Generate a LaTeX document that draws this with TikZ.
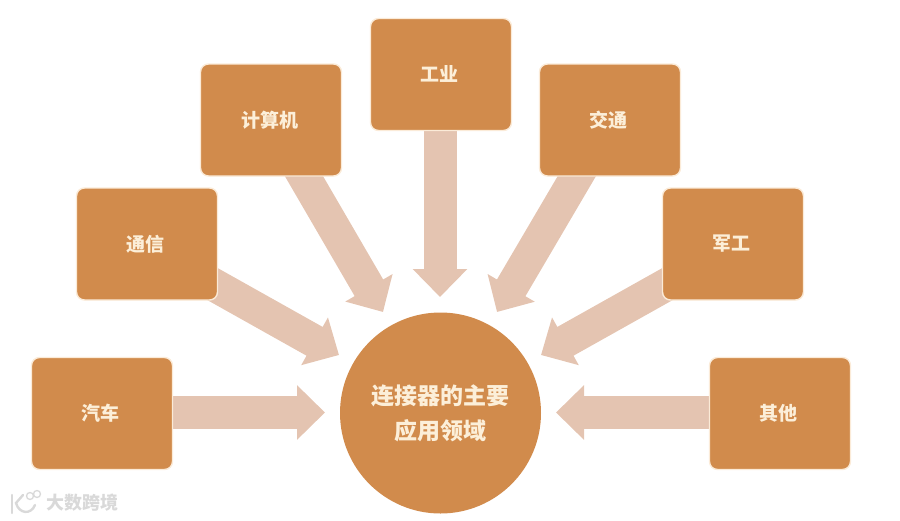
\documentclass[tikz,border=0pt]{standalone}
\usepackage{fontspec}
\newfontfamily\cjk{Noto Sans CJK SC}
\usetikzlibrary{arrows.meta,backgrounds}
\definecolor{boxfill}{HTML}{D18B4C}
\definecolor{boxedge}{HTML}{FBEBD8}
\definecolor{flow}{HTML}{E4C4B1}
\definecolor{boxtext}{HTML}{FCEFD9}
\definecolor{wmgray}{HTML}{D9D9D9}
\newcommand\arealabel[1]{\raisebox{2pt}{\kern-2.5pt #1}}
\tikzset{
  area/.style={draw=boxedge,line width=1.4pt,fill=boxfill,rounded corners=8pt,minimum width=141pt,minimum height=112pt,inner sep=0pt,text=boxtext,font=\cjk\bfseries\fontsize{19pt}{22pt}\selectfont},
  hub/.style={circle,fill=boxfill,minimum size=201pt,inner sep=0pt,align=center,text=boxtext,font=\cjk\bfseries\fontsize{23pt}{35pt}\selectfont},
  flowarrow/.style={draw=flow,line width=33pt,-{Triangle[length=28pt,width=53pt,color=flow]}},
  wm/.style={text=wmgray,inner sep=0pt,font=\cjk\bfseries\fontsize{18pt}{20pt}\selectfont},
  wmline/.style={draw=wmgray,line width=2.4pt,line cap=round}
}
\begin{document}
\begin{tikzpicture}[x=1pt,y=-1pt]
\useasboundingbox (0,0) rectangle (900,520);
\node[area] (auto) at (102,413.5) {\arealabel{汽车}};
\node[area] (comm) at (147,244) {\arealabel{通信}};
\node[area] (comp) at (271,120) {\arealabel{计算机}};
\node[area] (ind) at (441,74.5) {\arealabel{工业}};
\node[area] (traf) at (610,120) {\arealabel{交通}};
\node[area] (mil) at (733,244) {\arealabel{军工}};
\node[area] (other) at (780,413.5) {\arealabel{其他}};
\node[hub] (hub) at (440.5,413) {连接器的主要\\应用领域};
\coordinate (s1) at (150,412.5); \coordinate (t1) at (325,412.5);
\coordinate (s2) at (191,272);   \coordinate (t2) at (339,355);
\coordinate (s3) at (280,135);   \coordinate (t3) at (383,312);
\coordinate (s4) at (440,110);   \coordinate (t4) at (440,297);
\coordinate (s5) at (601,135);   \coordinate (t5) at (497,312);
\coordinate (s6) at (689,272);   \coordinate (t6) at (541,355);
\coordinate (s7) at (730,412.5); \coordinate (t7) at (556,412.5);
\begin{scope}[on background layer]
\draw[flowarrow] (s1) -- (t1);
\draw[flowarrow] (s2) -- (t2);
\draw[flowarrow] (s3) -- (t3);
\draw[flowarrow] (s4) -- (t4);
\draw[flowarrow] (s5) -- (t5);
\draw[flowarrow] (s6) -- (t6);
\draw[flowarrow] (s7) -- (t7);
\end{scope}
\node[wm,anchor=west] (brand) at (46,503) {大数跨境};
\draw[wmline] (12,495) -- (12,513);
\draw[wmline] (23,495) -- (16,503) .. controls (19,514) and (31,515) .. (35,505);
\draw[wmgray,line width=1.3pt] (30,496) circle (3.5pt) (37,494) circle (3.5pt);
\end{tikzpicture}
\end{document}
